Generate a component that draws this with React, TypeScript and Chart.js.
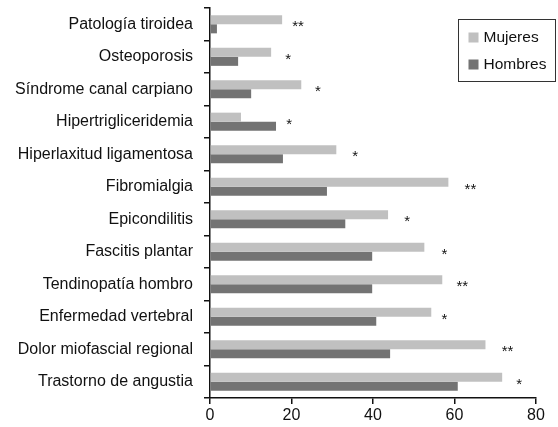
import React, { useEffect, useRef } from "react";
import { Chart, registerables } from "chart.js";

Chart.register(...registerables);

const categories = [
  "Patología tiroidea",
  "Osteoporosis",
  "Síndrome canal carpiano",
  "Hipertrigliceridemia",
  "Hiperlaxitud ligamentosa",
  "Fibromialgia",
  "Epicondilitis",
  "Fascitis plantar",
  "Tendinopatía hombro",
  "Enfermedad vertebral",
  "Dolor miofascial regional",
  "Trastorno de angustia",
];

const mujeres = [17.7, 15.0, 22.4, 7.6, 31.0, 58.5, 43.7, 52.6, 57.0, 54.3, 67.6, 71.7];
const hombres = [1.7, 6.9, 10.1, 16.2, 17.9, 28.7, 33.2, 39.8, 39.8, 40.8, 44.2, 60.8];

const sigLabels = ["**", "*", "*", "*", "*", "**", "*", "*", "**", "*", "**", "*"];
const sigPos = [21.6, 19.2, 26.5, 19.4, 35.6, 63.9, 48.4, 57.5, 61.9, 57.5, 73.0, 75.9];

const xTicks = [0, 20, 40, 60, 80];

const FONT = "'Liberation Sans', Arial, Helvetica, sans-serif";
const COLOR_M = "#c0c0c0";
const COLOR_H = "#737373";

const sigPlugin = {
  id: "sigPlugin",
  afterDatasetsDraw(chart: any) {
    const { ctx, scales } = chart;
    const x = scales.x;
    const y = scales.y;
    ctx.save();
    ctx.fillStyle = "#111";
    ctx.font = `15px ${FONT}`;
    ctx.textAlign = "center";
    ctx.textBaseline = "middle";
    sigLabels.forEach((lab, i) => {
      const px = x.getPixelForValue(sigPos[i]);
      const py = y.getPixelForValue(i) + 3;
      ctx.fillText(lab, px, py);
    });
    ctx.restore();
  },
};

const legendPlugin = {
  id: "boxLegend",
  afterDraw(chart: any) {
    const { ctx } = chart;
    const left = 458.5;
    const top = 19.5;
    const w = 97;
    const h = 62;
    ctx.save();
    ctx.fillStyle = "#fff";
    ctx.fillRect(left, top, w, h);
    ctx.strokeStyle = "#333";
    ctx.lineWidth = 1;
    ctx.strokeRect(left, top, w, h);
    ctx.font = `15.5px ${FONT}`;
    ctx.textBaseline = "middle";
    ctx.textAlign = "left";
    chart.data.datasets.forEach((ds: any, i: number) => {
      const cy = top + 18 + i * 27;
      ctx.fillStyle = ds.backgroundColor;
      ctx.fillRect(left + 10, cy - 5, 10, 10);
      ctx.fillStyle = "#111";
      ctx.fillText(ds.label, left + 25, cy);
    });
    ctx.restore();
  },
};

export default function App() {
  const ref = useRef<HTMLCanvasElement>(null);

  useEffect(() => {
    document.body.style.margin = "0";
    const chart = new Chart(ref.current!, {
      type: "bar",
      data: {
        labels: categories,
        datasets: [
          { label: "Mujeres", data: mujeres, backgroundColor: COLOR_M, borderWidth: 0 },
          { label: "Hombres", data: hombres, backgroundColor: COLOR_H, borderWidth: 0 },
        ],
      },
      options: {
        indexAxis: "y",
        animation: false,
        responsive: false,
        devicePixelRatio: 1,
        layout: { padding: { top: 8, right: 22, left: 0, bottom: 0 } },
        datasets: {
          bar: { categoryPercentage: 0.56, barPercentage: 1 },
        },
        plugins: {
          legend: { display: false },
          tooltip: { enabled: false },
        },
        scales: {
          x: {
            min: 0,
            max: 80,
            afterBuildTicks(scale: any) {
              scale.ticks = xTicks.map((v) => ({ value: v }));
            },
            afterFit(scale: any) {
              scale.height = 29;
              scale.paddingLeft = 0;
              scale.paddingRight = 0;
            },
            border: { display: true, color: "#111", width: 1.5 },
            grid: {
              display: true,
              drawOnChartArea: false,
              drawTicks: true,
              tickLength: 6,
              color: "#111",
              lineWidth: 1.5,
            },
            ticks: {
              color: "#111",
              font: { family: FONT, size: 16 },
              padding: 2,
              maxRotation: 0,
            },
          },
          y: {
            offset: true,
            afterFit(scale: any) {
              scale.width = 210;
              scale.paddingTop = 0;
              scale.paddingBottom = 0;
            },
            border: { display: true, color: "#111", width: 1.5 },
            grid: {
              display: true,
              offset: true,
              drawOnChartArea: false,
              drawTicks: true,
              tickLength: 6,
              color: "#111",
              lineWidth: 1.5,
            },
            ticks: {
              color: "#111",
              font: { family: FONT, size: 16 },
              padding: 11,
              autoSkip: false,
            },
          },
        },
      },
      plugins: [sigPlugin, legendPlugin],
    } as any);
    return () => chart.destroy();
  }, []);

  return (
    <div style={{ width: 558, height: 427, position: "relative" }}>
      <canvas ref={ref} width={558} height={427} style={{ display: "block" }} />
    </div>
  );
}
